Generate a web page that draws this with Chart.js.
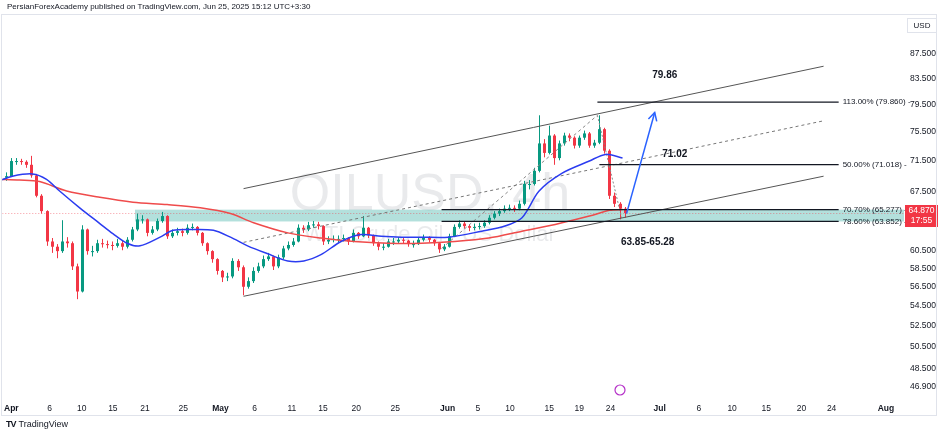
<!DOCTYPE html>
<html><head><meta charset="utf-8">
<script src="https://cdn.jsdelivr.net/npm/chart.js@4/dist/chart.umd.min.js"></script>
<style>
html,body{margin:0;padding:0;background:#fff;width:940px;height:436px;overflow:hidden;font-family:"Liberation Sans",Arial,sans-serif}
#hdr{position:absolute;left:7px;top:2px;font-size:8px;color:#131722}
#tv{position:absolute;left:6px;top:419px;font-size:9px;color:#131722}
#tv b{font-weight:900;letter-spacing:-1px;margin-right:3px}
#wrap{position:absolute;left:0;top:0}
</style></head><body>
<div id="wrap"><canvas id="c" width="940" height="436"></canvas></div>
<div id="hdr">PersianForexAcademy published on TradingView.com, Jun 25, 2025 15:12 UTC+3:30</div>
<div id="tv"><b>TV</b>TradingView</div>
<script>
// 4h-ish bars (index = bar number)
const closes=[69.5,71.5,71.5,71.4,71.0,69.6,67.0,65.1,61.5,60.9,60.4,61.5,61.3,58.7,56.0,62.9,60.4,60.4,61.3,61.2,61.1,61.0,61.3,60.9,61.7,62.9,64.1,64.1,62.5,62.9,63.9,64.5,62.1,62.5,62.7,62.5,63.1,63.2,62.5,61.3,60.4,59.5,58.2,57.5,57.6,59.3,58.6,56.5,57.1,58.2,58.7,59.5,59.8,58.7,59.7,60.7,61.1,61.5,63.1,62.9,63.4,63.5,63.3,61.5,61.7,61.8,61.8,61.9,61.5,62.5,62.1,63.1,62.2,61.3,60.9,60.9,61.5,61.5,61.7,61.6,61.2,61.2,61.7,61.9,61.7,61.3,60.6,60.9,62.1,63.2,63.6,63.3,63.1,63.2,63.3,63.7,64.3,64.8,65.1,65.4,65.5,65.4,66.0,68.5,68.5,70.2,73.9,72.6,75.0,71.9,73.9,75.0,74.7,73.6,74.7,75.3,73.6,74.0,75.9,72.9,67.0,66.0,65.4,64.87];
const highs=[70.0,71.9,71.9,71.8,71.6,72.2,69.8,67.2,65.2,61.9,61.2,64.0,62.0,61.5,59.0,63.4,63.0,61.0,61.7,61.8,61.6,61.5,61.8,61.6,62.0,63.2,64.8,64.6,64.2,63.3,64.2,65.0,64.6,62.9,63.1,63.0,63.5,63.6,63.3,62.6,61.4,60.5,59.6,58.3,58.0,59.6,59.5,58.8,57.5,58.6,59.1,59.9,60.2,59.9,60.0,61.0,61.5,61.9,63.5,63.4,63.8,63.9,63.8,63.4,62.1,62.2,62.2,62.3,62.0,62.9,62.6,64.5,63.2,62.3,61.5,61.3,61.8,61.9,62.0,62.0,61.7,61.6,62.0,62.3,62.1,61.8,61.4,61.2,62.4,63.5,64.0,63.8,63.5,63.6,63.7,64.0,64.6,65.1,65.4,65.8,65.9,65.8,66.4,68.9,69.0,70.6,77.9,74.5,76.4,75.2,74.3,75.4,75.3,74.9,75.0,75.7,75.5,74.4,77.9,76.1,73.1,67.4,66.2,65.6];
const lows=[68.9,69.4,71.0,71.0,70.6,69.3,66.8,64.8,61.0,60.2,59.6,60.2,60.8,58.3,55.2,55.9,60.0,59.8,60.2,60.8,60.7,60.5,60.8,60.5,60.7,61.5,62.7,63.6,62.1,62.3,62.7,63.7,61.8,61.9,62.2,62.1,62.3,62.8,62.2,61.0,60.0,59.1,57.8,57.0,57.1,57.4,58.2,55.6,56.3,56.9,58.0,58.5,59.3,58.3,58.5,59.5,60.5,60.9,61.4,62.5,62.7,63.1,62.9,61.1,61.2,61.4,61.4,61.5,61.1,61.4,61.8,62.0,61.9,61.0,60.5,60.5,60.8,61.1,61.3,61.3,60.9,60.8,61.1,61.5,61.4,61.0,60.2,60.4,60.8,62.0,63.0,63.0,62.7,62.8,62.9,63.1,63.5,64.1,64.5,64.9,65.1,65.0,65.2,65.8,67.8,68.3,70.0,72.0,72.4,71.0,71.6,73.6,74.2,73.2,73.3,74.4,73.3,73.3,73.8,72.5,66.6,65.6,64.1,64.3];
const firstOpen=69.3;
// moving averages (bar index, price)
const blueX=[-1.4,1.2,5.2,8,10.6,14.6,18.6,21.2,24,26.6,30.6,33.2,37.2,41.2,44.6,48,52,56,59.2,62.6,66.6,70.6,74.6,78.6,82.6,88,94.6,99.2,102.6,106,110.6,116,119.2,122.6];
const blueY=[68.9,69.5,69.8,69.1,67.6,65.5,63.6,62.4,61.3,61.0,62.0,62.8,62.9,62.8,62.0,61.0,60.1,59.3,59.3,60.0,61.5,62.3,62.1,62.0,62.0,62.0,62.7,63.3,64.3,67.6,69.9,71.5,72.4,71.9];
const redX=[-1.4,2.6,6.6,12,18.6,25.2,32,38.6,44.6,49.2,56,62.6,69.2,76,82.6,89.2,96,102.6,109.2,116,120,122.6];
const redY=[69.1,69.0,68.8,67.6,66.8,66.2,65.9,65.5,64.8,63.7,62.5,61.9,61.5,61.3,61.3,61.5,61.9,62.7,63.5,64.5,65.2,65.3];
// x ticks
const xTickPos=[1,8.6,15,21.2,27.6,35.2,42.6,49.4,56.8,63,69.6,77.4,87.8,93.8,100.2,108,114,120.2,130,137.8,144.4,151.2,158.2,164.2,175];
const xTickLabels=["Apr","6","10","15","21","25","May","6","11","15","20","25","Jun","5","10","15","19","24","Jul","6","10","15","20","24","Aug"];
const yTicks=[87.5,83.5,79.5,75.5,71.5,67.5,60.5,58.5,56.5,54.5,52.5,50.5,48.5,46.9];
// drawings
const chanUpper=[{x:47.2,y:67.9},{x:162.6,y:85.4}];
const chanLower=[{x:47.2,y:55.5},{x:162.6,y:69.5}];
const chanMid=[{x:47.2,y:61.4},{x:162.6,y:77.1}];
const swingLine=[{x:86.6,y:60.7},{x:117.6,y:77.9}];
const swingLine2=[{x:117.6,y:77.9},{x:122.4,y:64.3}];
const fibLevels=[{p:79.86,x0:117.6,lab:"113.00% (79.860)"},{p:71.018,x0:118,lab:"50.00% (71.018)"},{p:65.277,x0:86.6,lab:"70.70% (65.277)"},{p:63.852,x0:86.6,lab:"78.60% (63.852)"}];
const fibEnd=165.6;
const zone={x0:25.6,lo:63.852,hi:65.277};
const arrow={x0:123.4,y0:64.8,x1:129,y1:78.3};
const notes=[{x:131,y:83.9,t:"79.86"},{x:133,y:72.4,t:"71.02"},{x:127.6,y:61.4,t:"63.85-65.28"}];
const lastPrice=64.87;

const UP='#089981',DN='#f23645';
const draw={
 id:'draw',
 beforeDatasetsDraw(ch){
  const c=ch.ctx,xs=ch.scales.x,ys=ch.scales.y,a=ch.chartArea;
  c.save();
  c.beginPath();c.rect(a.left,a.top,a.right-a.left,a.bottom-a.top);c.clip();
  c.fillStyle='rgba(120,123,134,0.16)';c.textAlign='center';c.textBaseline='middle';
  c.font='52px "Liberation Sans",Arial';c.fillText('OILUSD, 4h',430,196);
  c.font='22px "Liberation Sans",Arial';c.fillText('WTI Crude Oil / US Dollar',430,235);
  c.fillStyle='rgba(38,166,154,0.35)';
  const zt=ys.getPixelForValue(zone.hi),zb=ys.getPixelForValue(zone.lo);
  c.fillRect(xs.getPixelForValue(zone.x0),zt,a.right-xs.getPixelForValue(zone.x0),zb-zt);
  const ly=Math.round(ys.getPixelForValue(lastPrice))+0.5;
  c.strokeStyle='rgba(242,54,69,0.5)';c.setLineDash([1,2]);c.lineWidth=1;
  c.beginPath();c.moveTo(a.left,ly);c.lineTo(a.right,ly);c.stroke();c.setLineDash([]);
  const w=xs.getPixelForValue(1)-xs.getPixelForValue(0);
  for(let i=0;i<closes.length;i++){
   const o=i?closes[i-1]:firstOpen,cl=closes[i];
   const col=cl>=o?UP:DN;
   const x=Math.round(xs.getPixelForValue(i))+0.5;
   c.strokeStyle=col;c.fillStyle=col;c.lineWidth=1;
   c.beginPath();c.moveTo(x,ys.getPixelForValue(highs[i]));c.lineTo(x,ys.getPixelForValue(lows[i]));c.stroke();
   const t=ys.getPixelForValue(Math.max(o,cl)),b=ys.getPixelForValue(Math.min(o,cl));
   c.fillRect(x-1.5,t,3,Math.max(1,b-t));
  }
  c.restore();
 },
 afterDatasetsDraw(ch){
  const c=ch.ctx,xs=ch.scales.x,ys=ch.scales.y,a=ch.chartArea;
  c.save();
  c.font='8px "Liberation Sans",Arial';c.textBaseline='middle';c.textAlign='left';
  fibLevels.forEach(f=>{
   const y=ys.getPixelForValue(f.p),x0=xs.getPixelForValue(f.x0),x1=xs.getPixelForValue(fibEnd);
   c.strokeStyle='#131722';c.lineWidth=1.3;c.beginPath();c.moveTo(x0,y);c.lineTo(x1,y);c.stroke();
   c.fillStyle='#131722';c.fillText(f.lab+' -',x1+4,y);
  });
  const ax0=xs.getPixelForValue(arrow.x0),ay0=ys.getPixelForValue(arrow.y0),ax1=xs.getPixelForValue(arrow.x1),ay1=ys.getPixelForValue(arrow.y1);
  c.strokeStyle='#2962ff';c.lineWidth=1.5;c.beginPath();c.moveTo(ax0,ay0);c.lineTo(ax1,ay1);c.stroke();
  const ang=Math.atan2(ay1-ay0,ax1-ax0);
  c.beginPath();c.moveTo(ax1-9*Math.cos(ang-0.5),ay1-9*Math.sin(ang-0.5));c.lineTo(ax1,ay1);c.lineTo(ax1-9*Math.cos(ang+0.5),ay1-9*Math.sin(ang+0.5));c.stroke();
  c.font='bold 10px "Liberation Sans",Arial';c.fillStyle='#131722';c.textAlign='center';
  notes.forEach(n=>c.fillText(n.t,xs.getPixelForValue(n.x),ys.getPixelForValue(n.y)));
  const py=ys.getPixelForValue(lastPrice);
  c.fillStyle=DN;c.fillRect(a.right+1,py-8,33,22);
  c.fillStyle='#fff';c.font='8.5px "Liberation Sans",Arial';c.textAlign='center';
  c.fillText(lastPrice.toFixed(3),a.right+17.5,py-2);c.fillText('17:55',a.right+17.5,py+8);
  c.strokeStyle='#e0e3eb';c.lineWidth=1;c.strokeRect(a.right+3.5,18.5,29,14);
  c.fillStyle='#131722';c.font='8px "Liberation Sans",Arial';c.fillText('USD',a.right+18,26);
  c.strokeStyle='#e0e3eb';c.strokeRect(1.5,14.5,935,401);
  c.strokeStyle='#b530c8';c.lineWidth=1.2;c.beginPath();c.arc(620,390,5,0,Math.PI*2);c.stroke();
  c.restore();
 }
};
const lineDs=(d,col,dash,w)=>({data:d,borderColor:col,borderWidth:w||1,borderDash:dash||[],pointRadius:0,fill:false,tension:0});
new Chart(document.getElementById('c'),{
 type:'line',
 data:{datasets:[
  {data:blueX.map((x,i)=>({x,y:blueY[i]})),borderColor:'#2b3cf0',borderWidth:1.5,pointRadius:0,tension:0.3,fill:false},
  {data:redX.map((x,i)=>({x,y:redY[i]})),borderColor:'#ef4b4b',borderWidth:1.5,pointRadius:0,tension:0.3,fill:false},
  lineDs(chanUpper,'#555'),lineDs(chanLower,'#555'),lineDs(chanMid,'#777',[3,3]),
  lineDs(swingLine,'#888',[3,3]),lineDs(swingLine2,'#888',[2,2])
 ]},
 options:{responsive:false,animation:false,devicePixelRatio:1,
  layout:{padding:{top:15,left:2,right:0,bottom:22}},
  plugins:{legend:{display:false},tooltip:{enabled:false}},
  scales:{
   x:{type:'linear',min:-0.8,max:178.6,grid:{display:false,drawTicks:false},border:{display:false},
    afterBuildTicks:s=>{s.ticks=xTickPos.map(v=>({value:v}));},
    afterFit:s=>{s.height=14;},
    ticks:{autoSkip:false,maxRotation:0,padding:4,color:'#131722',
     callback:(v,i)=>xTickLabels[i],
     font:ctx=>({size:8.5,weight:/^[A-Z]/.test(xTickLabels[ctx.index]||'')?'bold':'normal'})}},
   y:{type:'logarithmic',position:'right',min:45.7,max:94,grid:{display:false,drawTicks:false},border:{display:false},
    afterBuildTicks:s=>{s.ticks=yTicks.map(v=>({value:v}));},
    afterFit:s=>{s.width=36;},
    ticks:{autoSkip:false,color:'#131722',font:{size:8.5},padding:6,callback:v=>Number(v).toFixed(3)}}
  }},
 plugins:[draw]
});
</script></body></html>
